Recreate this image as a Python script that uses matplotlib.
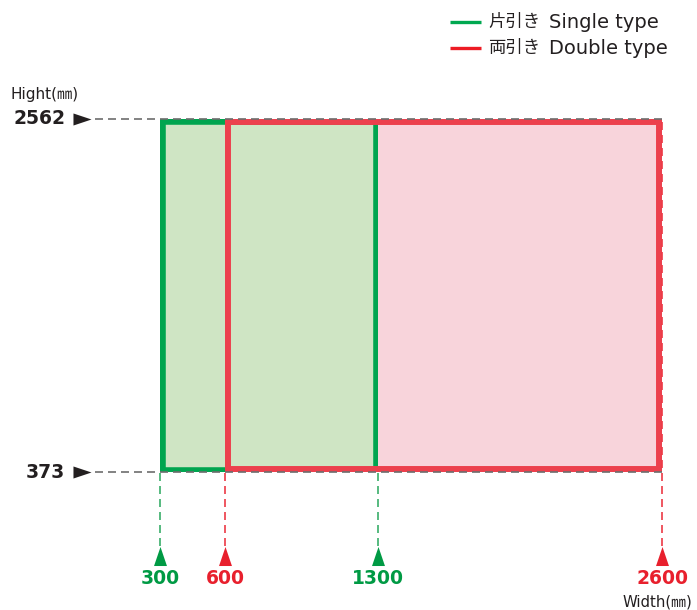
import matplotlib
matplotlib.use("Agg")
import matplotlib.pyplot as plt
from matplotlib.patches import Rectangle

# opening sizes in mm
type_jp = ["片引き", "両引き"]
type_en = ["Single type", "Double type"]
width_min = [300, 600]
width_max = [1300, 2600]
height_min = 373
height_max = 2562

x_ticks = [300, 600, 1300, 2600]
x_tick_type = [0, 1, 0, 1]
y_ticks = [2562, 373]

edge_colors = ["#00a54f", "#ec404d"]
fill_colors = ["#cfe5c4", "#f8d4db"]
text_colors = ["#009a44", "#e8202d"]
guide_colors = ["#3aae6a", "#ec3a46"]
legend_colors = ["#00a850", "#ed1c24"]
dark = "#231f20"

W, H = 697, 610
fig = plt.figure(figsize=(W / 100, H / 100), dpi=100)
ax = fig.add_axes([0, 0, 1, 1])
ax.axis("off")

# map mm to the picture: 300 -> px 160, 2600 -> px 662, 2562 -> px 119, 373 -> px 472
sx = (662 - 160) / (2600 - 300)
sy = (472 - 119) / (2562 - 373)
x0, x1 = 300 - 160 / sx, 300 + (W - 160) / sx
y0, y1 = 373 - (H - 472) / sy, 2562 + 119 / sy
ax.set_xlim(x0, x1)
ax.set_ylim(y0, y1)


def fx(f):
    return x0 + f * (x1 - x0)


def fy(f):
    return y0 + f * (y1 - y0)


# fills: red under green, then edges (stroke kept inside the box)
for i in [1, 0]:
    r = Rectangle((width_min[i], height_min), width_max[i] - width_min[i], height_max - height_min,
                  facecolor=fill_colors[i], edgecolor="none", zorder=1 + (1 - i))
    ax.add_patch(r)
for i in [0, 1]:
    r = Rectangle((width_min[i], height_min), width_max[i] - width_min[i], height_max - height_min,
                  facecolor="none", edgecolor=edge_colors[i], lw=7.6 if i == 0 else 8.6, zorder=3 + i)
    ax.add_patch(r)
    r.set_clip_path(r)

dash = (0, (4.8, 3.0))

# horizontal guides + left labels
for yv in y_ticks:
    ax.plot([fx(95 / W), max(x_ticks)], [yv, yv], color="#6d6d6d", lw=1.2, ls=dash, zorder=5)
    ax.plot([fx(82 / W)], [yv], marker=[(-0.75, -0.5), (-0.75, 0.5), (0.75, 0)],
            ms=13, color=dark, mec="none", zorder=6)
    ax.text(fx(65 / W), yv, str(yv), ha="right", va="center", fontsize=13.5,
            fontweight="bold", color=dark)

# vertical guides + bottom labels
tip = fy(1 - 546 / H)
for xv, t in zip(x_ticks, x_tick_type):
    top = height_max if xv == max(x_ticks) else height_min
    ax.plot([xv, xv], [tip, top], color=guide_colors[t], lw=1.2, ls=dash, zorder=5)
    ax.plot([xv], [fy(1 - 556 / H)], marker=[(-0.34, -0.5), (0.34, -0.5), (0, 0.5)],
            ms=13.7, color=text_colors[t], mec="none", zorder=6)
    ax.text(xv, fy(1 - 578 / H), str(xv), ha="center", va="center", fontsize=13.5,
            fontweight="bold", color=text_colors[t])

fam = ["DejaVu Sans", "Noto Sans CJK JP"]
ax.text(fx(10 / W), fy(1 - 95 / H), "Hight(㎜)", ha="left", va="center",
        fontsize=11, color=dark, family=fam)
ax.text(fx(692 / W), fy(1 - 602 / H), "Width(㎜)", ha="right", va="center",
        fontsize=10.7, color=dark, family=fam)

# legend drawn by hand (Japanese and Latin parts use different fonts)
for k in range(2):
    yl = 1 - (22 + 26 * k) / H
    ax.plot([450 / W, 481 / W], [yl, yl], color=legend_colors[k], lw=2.4,
            transform=ax.transAxes, solid_capstyle="butt")
    ax.text(488 / W, yl, type_jp[k], ha="left", va="center", fontsize=12.5,
            family="Noto Sans CJK JP", color=dark, transform=ax.transAxes)
    ax.text(549 / W, yl, type_en[k], ha="left", va="center", fontsize=14,
            family="DejaVu Sans", color=dark, transform=ax.transAxes)

fig.savefig("out.png", dpi=100)
